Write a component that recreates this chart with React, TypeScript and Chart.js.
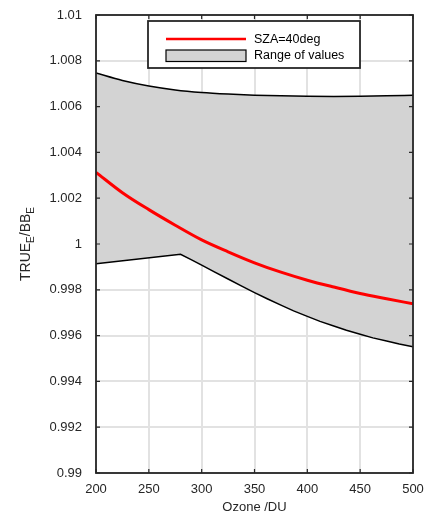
import React, { useEffect, useRef } from "react";
import { Chart, registerables } from "chart.js";

Chart.register(...registerables);

const xTicks = [200, 250, 300, 350, 400, 450, 500];
const yTicks = [0.99, 0.992, 0.994, 0.996, 0.998, 1, 1.002, 1.004, 1.006, 1.008, 1.01];

const redOzone = [200, 225, 250, 275, 300, 325, 350, 375, 400, 425, 450, 475, 500];
const redValues = [1.00313, 1.00224, 1.0015, 1.00082, 1.00018, 0.99966, 0.99918, 0.99877, 0.99842, 0.99812, 0.99784, 0.99761, 0.99739];

const upperOzone = [200, 225, 250, 275, 300, 325, 350, 375, 400, 425, 450, 475, 500];
const upperValues = [1.00747, 1.00714, 1.0069, 1.00673, 1.00662, 1.00655, 1.0065, 1.00647, 1.00645, 1.00644, 1.00645, 1.00647, 1.0065];

const lowerOzone = [200, 280, 290, 300, 312, 325, 337, 350, 362, 375, 387, 400, 412, 425, 437, 450, 462, 475, 487, 500];
const lowerValues = [0.99914, 0.99955, 0.99932, 0.99908, 0.99878, 0.99847, 0.99818, 0.99788, 0.99761, 0.99733, 0.99708, 0.99684, 0.99662, 0.99642, 0.99623, 0.99606, 0.9959, 0.99576, 0.99563, 0.99551];

const legendLabels = ["SZA=40deg", "Range of values"];
const xTitle = "Ozone /DU";

const pts = (xs: number[], ys: number[]) => xs.map((x, i) => ({ x, y: ys[i] }));

const FONT = "'Liberation Sans', Arial, sans-serif";
const AXIS = "#262626";

const decorPlugin = {
  id: "decor",
  afterDatasetsDraw(chart: any) {
    const { ctx, chartArea } = chart;
    const { left, right, top, bottom } = chartArea;
    const xs = chart.scales.x;
    const ys = chart.scales.y;
    ctx.save();
    // box
    ctx.strokeStyle = AXIS;
    ctx.lineWidth = 1.8;
    ctx.strokeRect(left, top, right - left, bottom - top);
    // inward ticks
    ctx.lineWidth = 1.2;
    const tl = 4;
    ctx.beginPath();
    xTicks.forEach((v) => {
      const px = xs.getPixelForValue(v);
      ctx.moveTo(px, bottom);
      ctx.lineTo(px, bottom - tl);
      ctx.moveTo(px, top);
      ctx.lineTo(px, top + tl);
    });
    yTicks.forEach((v) => {
      const py = ys.getPixelForValue(v);
      ctx.moveTo(left, py);
      ctx.lineTo(left + tl, py);
      ctx.moveTo(right, py);
      ctx.lineTo(right - tl, py);
    });
    ctx.stroke();

    // legend
    const lx0 = 148, lx1 = 360, ly0 = 21, ly1 = 68;
    ctx.fillStyle = "#ffffff";
    ctx.fillRect(lx0, ly0, lx1 - lx0, ly1 - ly0);
    ctx.strokeStyle = AXIS;
    ctx.lineWidth = 1.8;
    ctx.strokeRect(lx0, ly0, lx1 - lx0, ly1 - ly0);
    ctx.strokeStyle = "#ff0000";
    ctx.lineWidth = 2.5;
    ctx.beginPath();
    ctx.moveTo(166, 39);
    ctx.lineTo(246, 39);
    ctx.stroke();
    ctx.fillStyle = "#d3d3d3";
    ctx.fillRect(166, 50, 80, 11.5);
    ctx.strokeStyle = "#000000";
    ctx.lineWidth = 1.2;
    ctx.strokeRect(166, 50, 80, 11.5);
    ctx.fillStyle = "#000000";
    ctx.font = `12.5px ${FONT}`;
    ctx.textAlign = "left";
    ctx.textBaseline = "middle";
    ctx.fillText(legendLabels[0], 254, 40);
    ctx.fillText(legendLabels[1], 254, 56);

    // x title
    ctx.fillStyle = AXIS;
    ctx.font = `13px ${FONT}`;
    ctx.textAlign = "center";
    ctx.textBaseline = "middle";
    ctx.fillText(xTitle, (left + right) / 2, 507);

    // y title with subscripts
    ctx.translate(30, 244);
    ctx.rotate(-Math.PI / 2);
    const parts: [string, boolean][] = [["TRUE", false], ["E", true], ["/BB", false], ["E", true]];
    const big = `14px ${FONT}`;
    const small = `10px ${FONT}`;
    let total = 0;
    parts.forEach(([t, sub]) => {
      ctx.font = sub ? small : big;
      total += ctx.measureText(t).width;
    });
    let cx = -total / 2;
    ctx.textAlign = "left";
    ctx.textBaseline = "alphabetic";
    parts.forEach(([t, sub]) => {
      ctx.font = sub ? small : big;
      ctx.fillText(t, cx, sub ? 4 : 0);
      cx += ctx.measureText(t).width;
    });
    ctx.restore();
  },
};

export default function App() {
  const ref = useRef<HTMLCanvasElement | null>(null);
  useEffect(() => {
    if (!ref.current) return;
    const chart = new Chart(ref.current, {
      type: "line",
      data: {
        datasets: [
          {
            label: legendLabels[0],
            data: pts(redOzone, redValues),
            borderColor: "#ff0000",
            borderWidth: 3,
            pointRadius: 0,
            fill: false,
            cubicInterpolationMode: "monotone",
          },
          {
            label: "lower",
            data: pts(lowerOzone, lowerValues),
            borderColor: "#000000",
            borderWidth: 1.5,
            pointRadius: 0,
            fill: false,
            tension: 0,
          },
          {
            label: legendLabels[1],
            data: pts(upperOzone, upperValues),
            borderColor: "#000000",
            borderWidth: 1.5,
            pointRadius: 0,
            backgroundColor: "#d3d3d3",
            fill: 1,
            cubicInterpolationMode: "monotone",
          },
        ],
      },
      options: {
        animation: false,
        responsive: false,
        maintainAspectRatio: false,
        layout: { padding: { top: 15, right: 24, left: 0, bottom: 0 } },
        plugins: { legend: { display: false }, tooltip: { enabled: false } },
        scales: {
          x: {
            type: "linear",
            min: 200,
            max: 500,
            afterBuildTicks: (s: any) => {
              s.ticks = xTicks.map((v) => ({ value: v }));
            },
            afterFit: (s: any) => {
              s.height = 47;
              s.paddingLeft = 0;
              s.paddingRight = 0;
            },
            ticks: {
              color: AXIS,
              font: { family: FONT, size: 13 },
              padding: 9,
              maxRotation: 0,
              callback: (v: any) => String(v),
            },
            grid: { color: "#e2e2e2", lineWidth: 2, drawTicks: false },
            border: { display: false },
          },
          y: {
            type: "linear",
            min: 0.99,
            max: 1.01,
            afterBuildTicks: (s: any) => {
              s.ticks = yTicks.map((v) => ({ value: v }));
            },
            afterFit: (s: any) => {
              s.width = 96;
              s.paddingTop = 0;
              s.paddingBottom = 0;
            },
            ticks: {
              color: AXIS,
              font: { family: FONT, size: 13 },
              padding: 14,
              callback: (v: any) => String(Number(Number(v).toFixed(3))),
            },
            grid: { color: "#e2e2e2", lineWidth: 2, drawTicks: false },
            border: { display: false },
          },
        },
      },
      plugins: [decorPlugin],
    });
    return () => chart.destroy();
  }, []);
  return (
    <div style={{ position: "fixed", left: 0, top: 0, width: 437, height: 520, background: "#fff" }}>
      <canvas ref={ref} width={437} height={520} style={{ width: 437, height: 520 }} />
    </div>
  );
}
